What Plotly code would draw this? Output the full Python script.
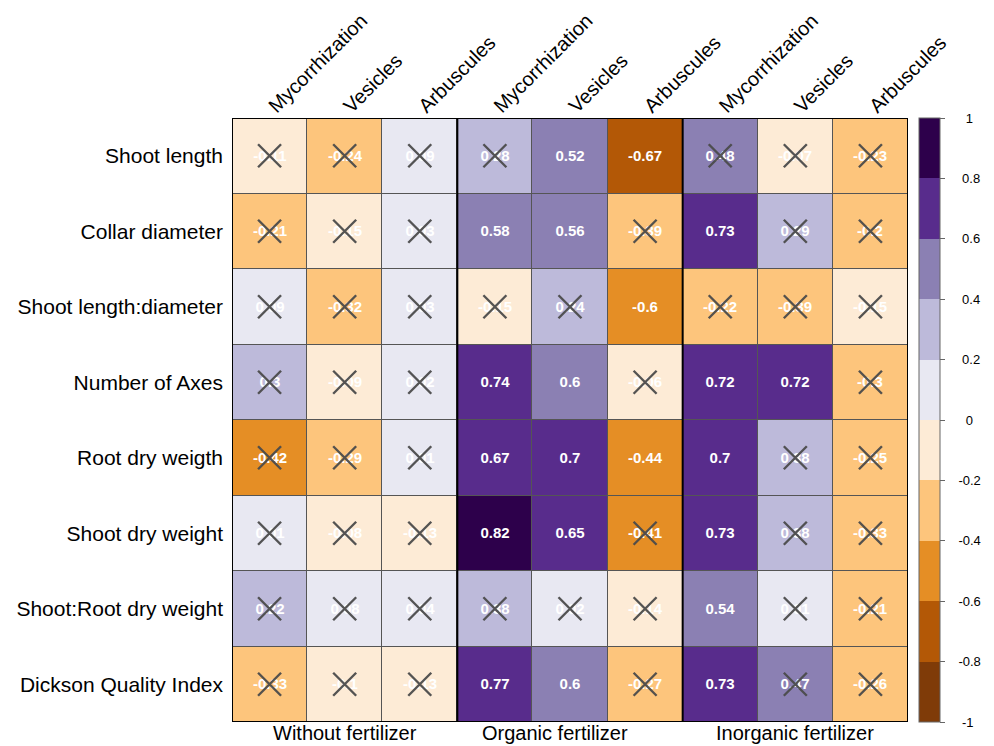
import plotly.graph_objects as go

rows = ["Shoot length", "Collar diameter", "Shoot length:diameter", "Number of Axes",
        "Root dry weigth", "Shoot dry weight", "Shoot:Root dry weight", "Dickson Quality Index"]
cols = ["Mycorrhization", "Vesicles", "Arbuscules"] * 3
groups = ["Without fertilizer", "Organic fertilizer", "Inorganic fertilizer"]

shoot_length = [-0.11, -0.24, 0.09, 0.28, 0.52, -0.67, 0.48, -0.07, -0.23]
collar_diameter = [-0.21, -0.15, 0.03, 0.58, 0.56, -0.39, 0.73, 0.29, -0.2]
shoot_length_diameter = [0.09, -0.32, 0.03, -0.15, 0.24, -0.6, -0.22, -0.39, -0.15]
number_of_axes = [0.3, -0.09, 0.02, 0.74, 0.6, -0.06, 0.72, 0.72, -0.3]
root_dry_weigth = [-0.42, -0.29, 0.01, 0.67, 0.7, -0.44, 0.7, 0.38, -0.25]
shoot_dry_weight = [0.01, -0.08, -0.13, 0.82, 0.65, -0.41, 0.73, 0.38, -0.33]
shoot_root_dry_weight = [0.22, 0.08, 0.04, 0.38, 0.02, -0.14, 0.54, 0.01, -0.21]
dickson_quality_index = [-0.33, -0.1, -0.13, 0.77, 0.6, -0.27, 0.73, 0.47, -0.26]

# 1 = significant (no cross), 0 = not significant (crossed)
sig_shoot_length = [0, 0, 0, 0, 1, 1, 0, 0, 0]
sig_collar_diameter = [0, 0, 0, 1, 1, 0, 1, 0, 0]
sig_shoot_length_diameter = [0, 0, 0, 0, 0, 1, 0, 0, 0]
sig_number_of_axes = [0, 0, 0, 1, 1, 0, 1, 1, 0]
sig_root_dry_weigth = [0, 0, 0, 1, 1, 1, 1, 0, 0]
sig_shoot_dry_weight = [0, 0, 0, 1, 1, 0, 1, 0, 0]
sig_shoot_root_dry_weight = [0, 0, 0, 0, 0, 0, 1, 0, 0]
sig_dickson_quality_index = [0, 0, 0, 1, 1, 0, 1, 0, 0]

cb_ticks = [1, 0.8, 0.6, 0.4, 0.2, 0, -0.2, -0.4, -0.6, -0.8, -1]

Z = [shoot_length, collar_diameter, shoot_length_diameter, number_of_axes,
     root_dry_weigth, shoot_dry_weight, shoot_root_dry_weight, dickson_quality_index]
SIG = [sig_shoot_length, sig_collar_diameter, sig_shoot_length_diameter, sig_number_of_axes,
       sig_root_dry_weigth, sig_shoot_dry_weight, sig_shoot_root_dry_weight, sig_dickson_quality_index]

palette = ["#7f3b08", "#b35806", "#e58e25", "#fdc57c", "#fdebd6",
           "#e8e8f2", "#bdbada", "#8b80b3", "#582c8c", "#2d004b"]
colorscale = []
for i, c in enumerate(palette):
    colorscale.append([i / 10, c])
    colorscale.append([(i + 1) / 10, c])

xs = list(range(len(cols)))
ys = list(range(len(rows)))
text = [[f"<b>{v:g}</b>" for v in r] for r in Z]


def cb_label(t):
    s = f"{t:g}"
    pad = {1: 5, 2: 4, 3: 4, 4: 3}.get(len(s), 3)
    return "\u00a0" * pad + s


fig = go.Figure()
fig.add_trace(go.Heatmap(
    z=Z, x=xs, y=ys, text=text, texttemplate="%{text}",
    textfont=dict(color="white", size=15, family="Arial, Liberation Sans"),
    colorscale=colorscale, zmin=-1, zmax=1, xgap=1, ygap=1, hoverinfo="skip",
    colorbar=dict(
        x=1.017, xanchor="left", xpad=0, y=0.5, yanchor="middle", len=1, ypad=0,
        thickness=21, outlinecolor="#666", outlinewidth=1,
        tickvals=cb_ticks, ticktext=[cb_label(t) for t in cb_ticks],
        ticks="outside", ticklen=5, tickcolor="#666",
        tickfont=dict(size=13, color="black", family="Arial, Liberation Sans"),
    ),
))

cx, cy = [], []
for i, r in enumerate(SIG):
    for j, s in enumerate(r):
        if not s:
            cx.append(xs[j])
            cy.append(ys[i])
fig.add_trace(go.Scatter(
    x=cx, y=cy, mode="markers", hoverinfo="skip", showlegend=False,
    marker=dict(symbol="x-thin", size=23, line=dict(width=2.4, color="rgba(75,75,75,0.95)")),
))

# group separators and outer border
for xb in [2.5, 5.5]:
    fig.add_shape(type="line", x0=xb, x1=xb, y0=-0.5, y1=7.5, xref="x", yref="y",
                  line=dict(color="black", width=2))
fig.add_shape(type="rect", x0=-0.5, x1=8.5, y0=-0.5, y1=7.5, xref="x", yref="y",
              line=dict(color="black", width=2))

for gx, g in zip([1, 3.8, 7], groups):
    fig.add_annotation(x=gx, y=0, xref="x", yref="paper", yanchor="top", yshift=1,
                       borderpad=0, text=g, showarrow=False,
                       font=dict(size=20, color="black", family="Arial, Liberation Sans"))

fig.update_layout(
    width=986, height=738,
    margin=dict(l=224, r=86, t=110, b=24, autoexpand=False),
    paper_bgcolor="white", plot_bgcolor="#555",
    font=dict(family="Arial, Liberation Sans", color="black"),
    showlegend=False,
    xaxis=dict(side="top", tickvals=xs, ticktext=cols, tickangle=-45, range=[-0.5, 8.5],
               showgrid=False, zeroline=False, ticks="", tickfont=dict(size=20),
               ticklabelstandoff=-4, automargin=False),
    yaxis=dict(tickvals=ys, ticktext=rows, range=[7.5, -0.5], showgrid=False,
               zeroline=False, ticks="", tickfont=dict(size=21), ticklabelstandoff=8,
               automargin=False),
)

fig.write_html("out.html")
